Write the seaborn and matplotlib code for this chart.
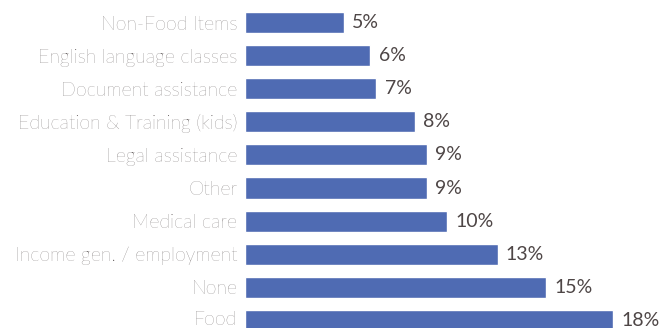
import matplotlib
matplotlib.use("Agg")
import matplotlib.pyplot as plt
import matplotlib.transforms as mtransforms
import seaborn as sns
import pandas as pd

# Support needed, share of respondents (%)
categories = [
    "Non-Food Items",
    "English language classes",
    "Document assistance",
    "Education & Training (kids)",
    "Legal assistance",
    "Other",
    "Medical care",
    "Income gen. / employment",
    "None",
    "Food",
]
shares = [4.9, 6.2, 6.5, 8.4, 9.0, 9.0, 10.0, 12.5, 14.9, 18.2]

df = pd.DataFrame({"need": categories, "share": shares})

BAR = "#4F6BB3"
LABEL_GREY = "#585151"
VALUE_GREY = "#4E4646"

sns.set_theme(style="white")
plt.rcParams["font.family"] = ["Lato", "DejaVu Sans"]

W, H, DPI = 666, 328, 100
fig = plt.figure(figsize=(W / DPI, H / DPI), dpi=DPI)
ax = fig.add_axes([245 / W, 0, (W - 245) / W, 1])

sns.barplot(data=df, x="share", y="need", orient="h", color=BAR,
            width=0.635, saturation=1, ax=ax)

px_per_unit = 20.2
ax.set_xlim(0, (W - 245) / px_per_unit)
row = 33.1
ax.set_ylim((H - 22.5) / row, -22.5 / row)

for s in ax.spines.values():
    s.set_visible(False)
ax.set_xticks([])
ax.set_xlabel("")
ax.set_ylabel("")
ax.tick_params(axis="y", length=0, pad=5.5)
ticklabels = ax.get_yticklabels()
for t in ticklabels:
    t.set_fontsize(14)
    t.set_color(LABEL_GREY)
    t.set_fontweight("light")

# lift the bottom category name slightly so it stays inside the figure
bottom_shift = mtransforms.ScaledTranslation(0, 2.5 / DPI, fig.dpi_scale_trans)
for tick in ax.yaxis.get_major_ticks()[-1:]:
    tick.label1.set_transform(tick.label1.get_transform() + bottom_shift)

labels = [f"{int(v + 0.5)}%" for v in shares]
ax.bar_label(ax.containers[0], labels=labels, padding=6,
             fontsize=14, color=VALUE_GREY)

fig.savefig("out.png", dpi=DPI)
